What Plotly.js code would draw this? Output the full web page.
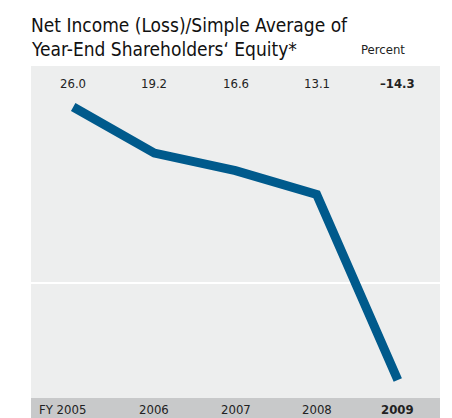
<!DOCTYPE html>
<html>
<head>
<meta charset="utf-8">
<script src="https://cdn.plot.ly/plotly-3.0.1.min.js"></script>
<style>
html,body{margin:0;padding:0;background:#fff;}
#chart{width:452px;height:418px;}
</style>
</head>
<body>
<div id="chart"></div>
<script>
const years = ['2005', '2006', '2007', '2008', '2009'];
const tickLabels = ['FY 2005', '2006', '2007', '2008', '<b>2009</b>'];
const values = [26.0, 19.2, 16.6, 13.1, -14.3];
const valueLabels = ['26.0', '19.2', '16.6', '13.1', '<b>\u201314.3</b>'];
const titleLines = ['Net Income (Loss)/Simple Average of', 'Year-End Shareholders\u2018 Equity*'];

const FONT = '"DejaVu Sans Condensed", "Liberation Sans", sans-serif';
const xIdx = years.map((_, i) => i);
const PLOT_H = 418 - 66 - 20;

const trace = {
  x: xIdx,
  y: values,
  type: 'scatter',
  mode: 'lines',
  line: {color: '#005a8c', width: 9},
  hoverinfo: 'skip'
};

const annotations = [];
xIdx.forEach((xi, i) => {
  annotations.push({
    x: xi, xref: 'x', y: 1, yref: 'paper', yshift: -17,
    text: valueLabels[i], showarrow: false,
    xanchor: 'center', yanchor: 'middle',
    font: {family: FONT, size: 13, color: '#222'}
  });
  annotations.push({
    x: xi, xref: 'x', y: 0, yref: 'paper', yshift: -11,
    xshift: i === 0 ? -11 : 0,
    text: tickLabels[i], showarrow: false,
    xanchor: 'center', yanchor: 'middle',
    font: {family: FONT, size: 13, color: '#222'}
  });
});
annotations.push({
  x: (407 - 31) / 409, xref: 'paper', y: 1, yref: 'paper', yshift: 17,
  text: 'Percent', showarrow: false, xanchor: 'right', yanchor: 'middle',
  font: {family: FONT, size: 13, color: '#222'}
});
titleLines.forEach((t, i) => {
  annotations.push({
    x: 0, xref: 'paper', xshift: -2, y: 1, yref: 'paper', yshift: 66 - 25 - 24 * i,
    text: t, showarrow: false, xanchor: 'left', yanchor: 'middle',
    font: {family: FONT, size: 19, color: '#111'}
  });
});

const layout = {
  width: 452, height: 418,
  margin: {l: 31, r: 12, t: 66, b: 20, pad: 0},
  paper_bgcolor: '#ffffff',
  plot_bgcolor: '#edeeee',
  showlegend: false,
  xaxis: {
    range: [-0.52, 4.52], showgrid: false, zeroline: false,
    showticklabels: false, ticks: '', showline: false, fixedrange: true
  },
  yaxis: {
    range: [-16.96, 32.05], showgrid: false, zeroline: true,
    zerolinecolor: '#ffffff', zerolinewidth: 2,
    showticklabels: false, ticks: '', showline: false, fixedrange: true
  },
  shapes: [{
    type: 'rect', xref: 'paper', yref: 'paper', layer: 'below',
    x0: 0, x1: 1, y0: -20 / PLOT_H, y1: 0,
    fillcolor: '#c8c9ca', line: {width: 0}
  }],
  annotations: annotations
};

Plotly.newPlot('chart', [trace], layout, {staticPlot: true, displayModeBar: false});
</script>
</body>
</html>
